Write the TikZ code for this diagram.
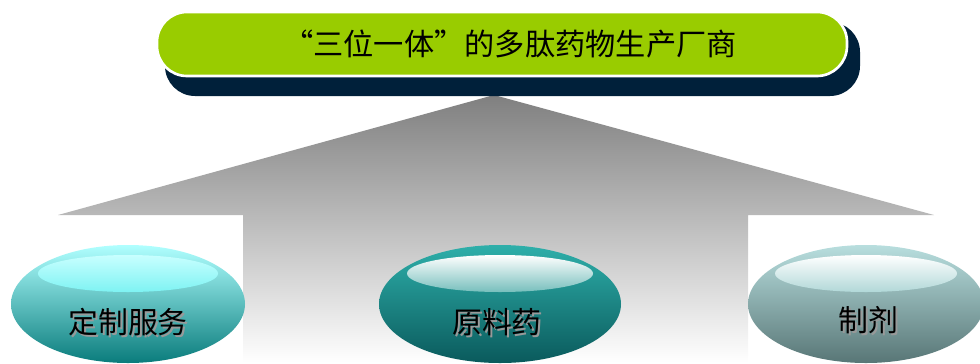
\documentclass[tikz,border=0pt]{standalone}
\usepackage{fontspec}
\setmainfont{Noto Sans CJK SC}
\usetikzlibrary{shapes.geometric}

\definecolor{titlegreen}{HTML}{99CC00}
\definecolor{navyshadow}{HTML}{00203A}
\definecolor{svctop}{HTML}{B0FFFF}
\definecolor{svcmid}{HTML}{34E0E0}
\definecolor{svcbot}{HTML}{0A7C7C}
\definecolor{apitop}{HTML}{2EAFAA}
\definecolor{apimid}{HTML}{1C9490}
\definecolor{apibot}{HTML}{0A5A5C}
\definecolor{fmttop}{HTML}{B8DEDE}
\definecolor{fmtmid}{HTML}{96BFBF}
\definecolor{fmtbot}{HTML}{587676}

\begin{document}
\begin{tikzpicture}[
    pill/.style={ellipse, minimum width=4.7cm, minimum height=2.36cm, inner sep=0pt},
    lbl/.style={font=\fontsize{17}{20}\selectfont, inner sep=0pt},
    lblshadow/.style={lbl, text=black!40},
]
\useasboundingbox (0,0) rectangle (19.6,7.26);
\clip (0,0) rectangle (19.6,7.26);

% Big arrow
\shade[top color=black!50, middle color=black!14, bottom color=white]
    (9.88,5.36) -- (18.68,2.96) -- (14.96,2.96) -- (14.96,0)
    -- (4.86,0) -- (4.86,2.96) -- (1.16,2.96) -- cycle;

% Title box
\node[fill=navyshadow, rounded corners=0.6cm, minimum width=13.9cm, minimum height=1.48cm] (titleshadow) at (10.25,6.08) {};
\node[fill=titlegreen, draw=white, line width=1.5pt, rounded corners=0.6cm,
      minimum width=13.8cm, minimum height=1.28cm] (title) at (10.04,6.38) {};
\node[font=\fontsize{17.2}{20}\selectfont, inner sep=0pt] (titletxt) at (10.2,6.38) {“三位一体”的多肽药物生产厂商};

% Custom service
\node[pill, top color=svctop, middle color=svcmid, bottom color=svcbot, minimum width=4.68cm] (svc) at (2.56,1.18) {};
\shade[top color=svctop!70!white, bottom color=svcmid!40!svctop] (2.56,1.79) ellipse [x radius=1.8cm, y radius=0.37cm];
\node[lblshadow] at (2.6,0.78) {定制服务};
\node[lbl] (svctxt) at (2.56,0.82) {定制服务};

% API
\node[pill, top color=apitop, middle color=apimid, bottom color=apibot, minimum width=4.84cm] (api) at (10.0,1.18) {};
\shade[top color=white, bottom color=apimid!60!white] (10.0,1.79) ellipse [x radius=1.86cm, y radius=0.37cm];
\node[lblshadow] at (9.98,0.78) {原料药};
\node[lbl] (apitxt) at (9.94,0.82) {原料药};

% Formulation
\node[pill, top color=fmttop, middle color=fmtmid, bottom color=fmtbot, minimum width=4.72cm] (fmt) at (17.32,1.18) {};
\shade[top color=white, bottom color=fmttop!80!fmtmid] (17.32,1.79) ellipse [x radius=1.82cm, y radius=0.37cm];
\node[lblshadow] at (17.4,0.82) {制剂};
\node[lbl] (fmttxt) at (17.36,0.86) {制剂};

\end{tikzpicture}
\end{document}
